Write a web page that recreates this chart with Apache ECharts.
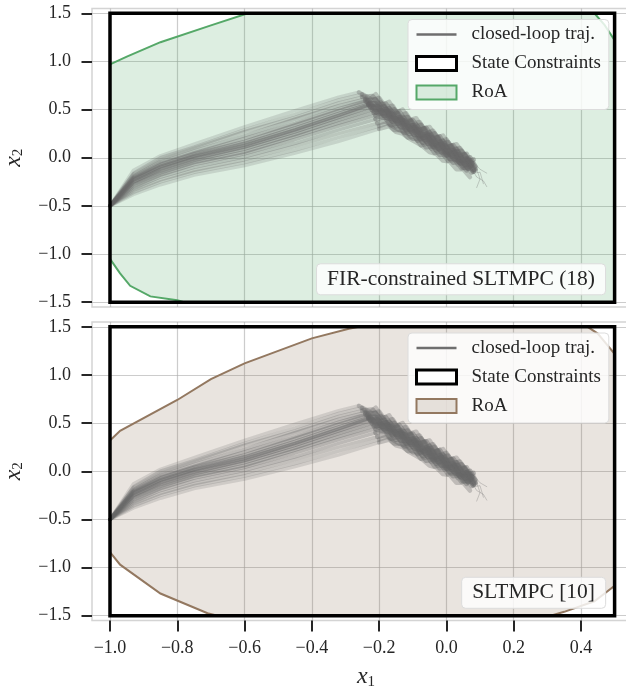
<!DOCTYPE html>
<html>
<head>
<meta charset="utf-8">
<script src="https://cdn.jsdelivr.net/npm/echarts@6/dist/echarts.min.js"></script>
<style>
  html, body { margin: 0; padding: 0; background: #fff; }
  #main { width: 626px; height: 689px; }
</style>
</head>
<body>
<div id="main"></div>
<script>
// tick values
const xTicks = [-1.0, -0.8, -0.6, -0.4, -0.2, 0.0, 0.2, 0.4];
const yTicks = [-1.5, -1.0, -0.5, 0.0, 0.5, 1.0, 1.5];

// state constraint box
const stateBox = [[-1, -1.5], [0.5, -1.5], [0.5, 1.5], [-1, 1.5]];

// region of attraction (already cut to the box)
const roaFir = [
  [-1, 0.97], [-0.95, 1.05], [-0.85, 1.2], [-0.7, 1.375], [-0.59, 1.5],
  [0.44, 1.5], [0.47, 1.38], [0.5, 1.22], [0.5, -1.5],
  [-0.78, -1.5], [-0.8, -1.48], [-0.88, -1.44], [-0.94, -1.33], [-0.97, -1.2], [-1, -1.05]
];
const roaSlt = [
  [-1, 0.32], [-0.97, 0.42], [-0.8, 0.74], [-0.7, 0.957], [-0.6, 1.12], [-0.4, 1.38],
  [-0.29, 1.48], [-0.26, 1.5], [0.42, 1.5], [0.45, 1.43], [0.5, 1.22], [0.5, -1.19],
  [0.44, -1.35], [0.35, -1.46], [0.31, -1.5], [-0.68, -1.5], [-0.71, -1.475],
  [-0.85, -1.27], [-0.97, -0.97], [-1, -0.84]
];

// closed-loop trajectories: first part from the initial state up to the kink
const trajHeads = [
  [[-1,-0.5],[-0.93,-0.13],[-0.85,0.02],[-0.75,0.14],[-0.6,0.32],[-0.45,0.49],[-0.32,0.63],[-0.26,0.68]],
  [[-1,-0.5],[-0.93,-0.16],[-0.85,0.0],[-0.75,0.11],[-0.6,0.29],[-0.45,0.45],[-0.32,0.6],[-0.25,0.66]],
  [[-1,-0.5],[-0.93,-0.17],[-0.85,-0.02],[-0.75,0.1],[-0.6,0.27],[-0.45,0.42],[-0.32,0.57],[-0.25,0.63]],
  [[-1,-0.5],[-0.93,-0.19],[-0.85,-0.04],[-0.75,0.07],[-0.6,0.23],[-0.45,0.4],[-0.32,0.54],[-0.24,0.61]],
  [[-1,-0.5],[-0.93,-0.2],[-0.85,-0.06],[-0.75,0.05],[-0.6,0.2],[-0.45,0.36],[-0.32,0.51],[-0.24,0.59]],
  [[-1,-0.5],[-0.93,-0.21],[-0.85,-0.07],[-0.75,0.04],[-0.6,0.17],[-0.45,0.34],[-0.32,0.49],[-0.235,0.58]],
  [[-1,-0.5],[-0.93,-0.22],[-0.85,-0.09],[-0.75,0.02],[-0.6,0.15],[-0.45,0.31],[-0.32,0.46],[-0.23,0.56]],
  [[-1,-0.5],[-0.93,-0.23],[-0.85,-0.1],[-0.75,0.01],[-0.6,0.13],[-0.45,0.29],[-0.32,0.44],[-0.23,0.55]],
  [[-1,-0.5],[-0.93,-0.25],[-0.85,-0.12],[-0.75,-0.01],[-0.6,0.11],[-0.45,0.27],[-0.32,0.42],[-0.225,0.53]],
  [[-1,-0.5],[-0.93,-0.26],[-0.85,-0.14],[-0.75,-0.03],[-0.6,0.09],[-0.45,0.24],[-0.32,0.39],[-0.22,0.5]],
  [[-1,-0.5],[-0.93,-0.28],[-0.85,-0.16],[-0.75,-0.05],[-0.6,0.06],[-0.45,0.22],[-0.32,0.36],[-0.215,0.47]],
  [[-1,-0.5],[-0.93,-0.3],[-0.85,-0.18],[-0.75,-0.07],[-0.6,0.04],[-0.45,0.19],[-0.32,0.33],[-0.21,0.44]],
  [[-1,-0.5],[-0.93,-0.32],[-0.85,-0.2],[-0.75,-0.1],[-0.6,0.01],[-0.45,0.15],[-0.32,0.29],[-0.21,0.4]],
  [[-1,-0.5],[-0.93,-0.34],[-0.85,-0.23],[-0.75,-0.13],[-0.6,-0.02],[-0.45,0.12],[-0.32,0.25],[-0.205,0.36]],
  [[-1,-0.5],[-0.93,-0.36],[-0.85,-0.25],[-0.75,-0.15],[-0.6,-0.05],[-0.45,0.08],[-0.32,0.21],[-0.2,0.33]],
  [[-1,-0.5],[-0.93,-0.38],[-0.85,-0.28],[-0.75,-0.18],[-0.6,-0.08],[-0.45,0.05],[-0.32,0.17],[-0.2,0.3]]
];

// second part: from the kink towards the origin (noisy)
const trajTails = [
  [[-0.26,0.68],[-0.23,0.6],[-0.21,0.66],[-0.19,0.55],[-0.17,0.58],[-0.15,0.47],[-0.13,0.5],[-0.11,0.39],[-0.09,0.41],[-0.07,0.3],[-0.05,0.32],[-0.03,0.21],[-0.01,0.23],[0.01,0.12],[0.03,0.14],[0.05,0.04]],
  [[-0.25,0.66],[-0.22,0.6],[-0.2,0.62],[-0.18,0.52],[-0.16,0.54],[-0.14,0.43],[-0.12,0.46],[-0.1,0.35],[-0.08,0.37],[-0.06,0.26],[-0.04,0.28],[-0.02,0.17],[0.0,0.19],[0.02,0.08],[0.04,0.1],[0.06,0.0]],
  [[-0.25,0.63],[-0.22,0.64],[-0.2,0.55],[-0.18,0.56],[-0.16,0.46],[-0.14,0.48],[-0.12,0.38],[-0.1,0.39],[-0.08,0.29],[-0.06,0.31],[-0.04,0.2],[-0.02,0.22],[0.0,0.11],[0.02,0.13],[0.04,0.03],[0.06,0.04],[0.07,-0.04]],
  [[-0.24,0.61],[-0.215,0.55],[-0.195,0.57],[-0.175,0.48],[-0.155,0.5],[-0.135,0.4],[-0.115,0.42],[-0.095,0.31],[-0.075,0.34],[-0.055,0.23],[-0.035,0.25],[-0.015,0.14],[0.005,0.16],[0.025,0.05],[0.045,0.07],[0.065,-0.03],[0.08,-0.02]],
  [[-0.24,0.59],[-0.21,0.6],[-0.19,0.5],[-0.17,0.51],[-0.15,0.42],[-0.13,0.42],[-0.11,0.33],[-0.09,0.34],[-0.07,0.24],[-0.05,0.26],[-0.03,0.16],[-0.01,0.17],[0.01,0.07],[0.03,0.09],[0.05,-0.02],[0.07,0.0],[0.085,-0.09]],
  [[-0.235,0.58],[-0.205,0.5],[-0.185,0.53],[-0.165,0.43],[-0.145,0.46],[-0.125,0.35],[-0.105,0.38],[-0.085,0.27],[-0.065,0.3],[-0.045,0.18],[-0.025,0.21],[-0.005,0.09],[0.015,0.12],[0.035,0.0],[0.055,0.03],[0.075,-0.08]],
  [[-0.23,0.56],[-0.21,0.56],[-0.19,0.47],[-0.17,0.48],[-0.15,0.39],[-0.13,0.39],[-0.11,0.3],[-0.09,0.31],[-0.07,0.21],[-0.05,0.23],[-0.03,0.13],[-0.01,0.14],[0.01,0.04],[0.03,0.06],[0.05,-0.04],[0.07,-0.03],[0.085,-0.12]],
  [[-0.23,0.55],[-0.2,0.48],[-0.18,0.5],[-0.16,0.4],[-0.14,0.41],[-0.12,0.32],[-0.1,0.33],[-0.08,0.23],[-0.06,0.24],[-0.04,0.14],[-0.02,0.16],[0.0,0.06],[0.02,0.07],[0.04,-0.03],[0.06,-0.02],[0.08,-0.12]],
  [[-0.225,0.53],[-0.205,0.53],[-0.185,0.44],[-0.165,0.46],[-0.145,0.36],[-0.125,0.38],[-0.105,0.28],[-0.085,0.29],[-0.065,0.19],[-0.045,0.21],[-0.025,0.1],[-0.005,0.12],[0.015,0.02],[0.035,0.03],[0.055,-0.07],[0.075,-0.06]],
  [[-0.22,0.5],[-0.2,0.46],[-0.18,0.47],[-0.16,0.38],[-0.14,0.39],[-0.12,0.29],[-0.1,0.31],[-0.08,0.2],[-0.06,0.22],[-0.04,0.12],[-0.02,0.13],[0.0,0.03],[0.02,0.05],[0.04,-0.05],[0.06,-0.04],[0.08,-0.14]],
  [[-0.215,0.47],[-0.195,0.48],[-0.175,0.41],[-0.155,0.41],[-0.135,0.32],[-0.115,0.33],[-0.095,0.24],[-0.075,0.25],[-0.055,0.15],[-0.035,0.16],[-0.015,0.06],[0.005,0.07],[0.025,-0.02],[0.045,-0.01],[0.065,-0.11]],
  [[-0.21,0.44],[-0.19,0.42],[-0.17,0.42],[-0.15,0.33],[-0.13,0.35],[-0.11,0.25],[-0.09,0.27],[-0.07,0.16],[-0.05,0.18],[-0.03,0.08],[-0.01,0.1],[0.01,-0.01],[0.03,0.0],[0.05,-0.1],[0.07,-0.09]],
  [[-0.21,0.4],[-0.185,0.43],[-0.165,0.34],[-0.145,0.36],[-0.125,0.26],[-0.105,0.28],[-0.085,0.18],[-0.065,0.2],[-0.045,0.1],[-0.025,0.11],[-0.005,0.02],[0.015,0.03],[0.035,-0.07],[0.055,-0.06],[0.075,-0.15]],
  [[-0.205,0.36],[-0.18,0.38],[-0.16,0.33],[-0.14,0.29],[-0.12,0.27],[-0.1,0.2],[-0.08,0.2],[-0.06,0.11],[-0.04,0.12],[-0.02,0.03],[0.0,0.04],[0.02,-0.05],[0.04,-0.04],[0.06,-0.13]],
  [[-0.2,0.33],[-0.175,0.36],[-0.155,0.29],[-0.135,0.29],[-0.115,0.21],[-0.095,0.22],[-0.075,0.13],[-0.055,0.15],[-0.035,0.05],[-0.015,0.07],[0.005,-0.03],[0.025,-0.02],[0.045,-0.11],[0.065,-0.1]],
  [[-0.2,0.3],[-0.17,0.33],[-0.15,0.27],[-0.13,0.25],[-0.11,0.2],[-0.09,0.16],[-0.07,0.12],[-0.05,0.06],[-0.03,0.04],[-0.01,-0.03],[0.01,-0.04],[0.03,-0.12],[0.05,-0.12],[0.07,-0.2]]
];

// a few runs that wander past the end of the bundle
const trajStrays = [
  [[0.02,-0.02],[0.05,-0.1],[0.07,-0.08],[0.09,-0.2],[0.11,-0.24],[0.12,-0.3]],
  [[0.03,0.0],[0.06,-0.06],[0.08,-0.16],[0.1,-0.15],[0.11,-0.27]],
  [[0.0,0.05],[0.04,-0.04],[0.06,-0.13],[0.09,-0.12],[0.1,-0.22],[0.09,-0.31]],
  [[0.05,0.02],[0.08,-0.04],[0.1,-0.12],[0.12,-0.16]]
];

const panelTitles = ['FIR-constrained SLTMPC (18)', 'SLTMPC [10]'];
const legendNames = ['closed-loop traj.', 'State Constraints', 'RoA'];

const FONT = 'Liberation Serif';
const INK = '#262626';
const TRAJ = '#6e6e6e';

const panels = [
  { roa: roaFir, fill: 'rgba(85,168,104,0.2)', edge: '#55a868', top: 8.5 },
  { roa: roaSlt, fill: 'rgba(147,120,96,0.2)', edge: '#937860', top: 322 }
];

const fmt = (v) => v.toFixed(1).replace('-', '\u2212');

const chart = echarts.init(document.getElementById('main'), null, { renderer: 'canvas' });

const grids = [];
const xAxes = [];
const yAxes = [];
const legends = [];
const titles = [];
const series = [];

const nameRich = {
  i: { fontFamily: FONT, fontStyle: 'italic', fontSize: 24, color: INK },
  s: { fontFamily: FONT, fontSize: 15, color: INK, padding: [10, 0, 0, 0] }
};
const gridLine = { show: true, lineStyle: { color: 'rgba(170,170,170,0.6)', width: 1.2 } };

function trajSeries(i, data, width, alpha) {
  return {
    type: 'line', name: legendNames[0], xAxisIndex: i, yAxisIndex: i, z: 3,
    data: data, symbol: 'none', showSymbol: false, silent: true,
    lineStyle: { color: 'rgba(104,104,104,' + alpha + ')', width: width, join: 'round', cap: 'round' }
  };
}

// 0 in the middle of the bundle, 1 at its outer runs
const spread = (k, n) => Math.abs(k - (n - 1) / 2) / ((n - 1) / 2);

panels.forEach((p, i) => {
  grids.push({
    left: 92, right: -14, top: p.top, height: 298.5,
    outerBoundsMode: 'none', containLabel: false,
    show: true, borderColor: '#d4d4d4', borderWidth: 1.5, backgroundColor: 'transparent'
  });
  const isBottom = i === panels.length - 1;
  xAxes.push({
    type: 'value', gridIndex: i, min: -1.0535, max: 0.5755,
    axisLine: { show: false, onZero: false },
    axisTick: { show: isBottom, customValues: xTicks, length: 11, lineStyle: { color: INK, width: 2 } },
    axisLabel: {
      show: isBottom, customValues: xTicks, margin: 19, formatter: fmt,
      fontFamily: FONT, fontSize: 18, color: INK
    },
    splitLine: gridLine,
    name: isBottom ? '{i|x}{s|1}' : '',
    nameLocation: 'middle', nameGap: 44,
    nameTextStyle: { rich: nameRich }
  });
  yAxes.push({
    type: 'value', gridIndex: i, min: -1.55, max: 1.55,
    axisLine: { show: false, onZero: false },
    axisTick: { show: true, customValues: yTicks, length: 10.5, lineStyle: { color: INK, width: 2 } },
    axisLabel: {
      customValues: yTicks, margin: 21, formatter: fmt,
      fontFamily: FONT, fontSize: 18, color: INK
    },
    splitLine: gridLine,
    name: '{i|x}{s|2}',
    nameLocation: 'middle', nameGap: 66, nameRotate: 90,
    nameTextStyle: { rich: nameRich }
  });

  legends.push({
    orient: 'vertical', left: 408, top: p.top + 11,
    itemWidth: 40, itemHeight: 14, itemGap: 9,
    padding: [5, 8, 7, 7],
    backgroundColor: 'rgba(255,255,255,0.82)',
    borderColor: '#dcdcdc', borderWidth: 1, borderRadius: 4,
    selectedMode: false,
    textStyle: { fontFamily: FONT, fontSize: 19, color: INK, lineHeight: 20, padding: [0, 0, 0, 10] },
    data: [
      { name: legendNames[0], icon: 'path://M0,0H40V2.5H0Z', itemStyle: { color: TRAJ } },
      { name: legendNames[1], icon: 'rect', itemStyle: { color: '#fff', borderColor: '#000', borderWidth: 3 } },
      { name: legendNames[2], icon: 'rect', itemStyle: { color: p.fill, borderColor: p.edge, borderWidth: 2 } }
    ]
  });

  titles.push({
    text: panelTitles[i], right: 20, top: p.top + 254.8,
    padding: [4, 11, 4, 11],
    backgroundColor: 'rgba(255,255,255,0.82)',
    borderColor: '#dcdcdc', borderWidth: 1, borderRadius: 4,
    textStyle: { fontFamily: FONT, fontSize: 21.5, fontWeight: 'normal', color: INK, lineHeight: 24 }
  });

  // RoA polygon
  series.push({
    type: 'custom', name: legendNames[2], xAxisIndex: i, yAxisIndex: i, z: 2, silent: true,
    data: [p.roa[0]],
    renderItem: (params, api) => ({
      type: 'polygon',
      shape: { points: p.roa.map((pt) => api.coord(pt)) },
      style: { fill: p.fill, stroke: p.edge, lineWidth: 2 }
    })
  });

  // trajectories, one series per piece so that overlaps build up
  trajHeads.forEach((tr, k) => {
    const e = spread(k, trajHeads.length);
    series.push(trajSeries(i, tr, 3.5, (0.55 - 0.35 * e).toFixed(2)));
  });
  trajTails.forEach((tr, k) => {
    const e = spread(k, trajTails.length);
    series.push(trajSeries(i, tr, 6 - 1.5 * e, (0.6 - 0.28 * e).toFixed(2)));
  });
  trajStrays.forEach((tr) => series.push(trajSeries(i, tr, 1, 0.3)));

  // state constraints
  series.push({
    type: 'custom', name: legendNames[1], xAxisIndex: i, yAxisIndex: i, z: 4, silent: true,
    data: [stateBox[0]],
    renderItem: (params, api) => ({
      type: 'polygon',
      shape: { points: stateBox.map((pt) => api.coord(pt)) },
      style: { fill: 'none', stroke: '#000', lineWidth: 3.5, lineJoin: 'miter' }
    })
  });
});

chart.setOption({
  animation: false,
  backgroundColor: '#fff',
  grid: grids,
  xAxis: xAxes,
  yAxis: yAxes,
  legend: legends,
  title: titles,
  series: series
});
</script>
</body>
</html>
